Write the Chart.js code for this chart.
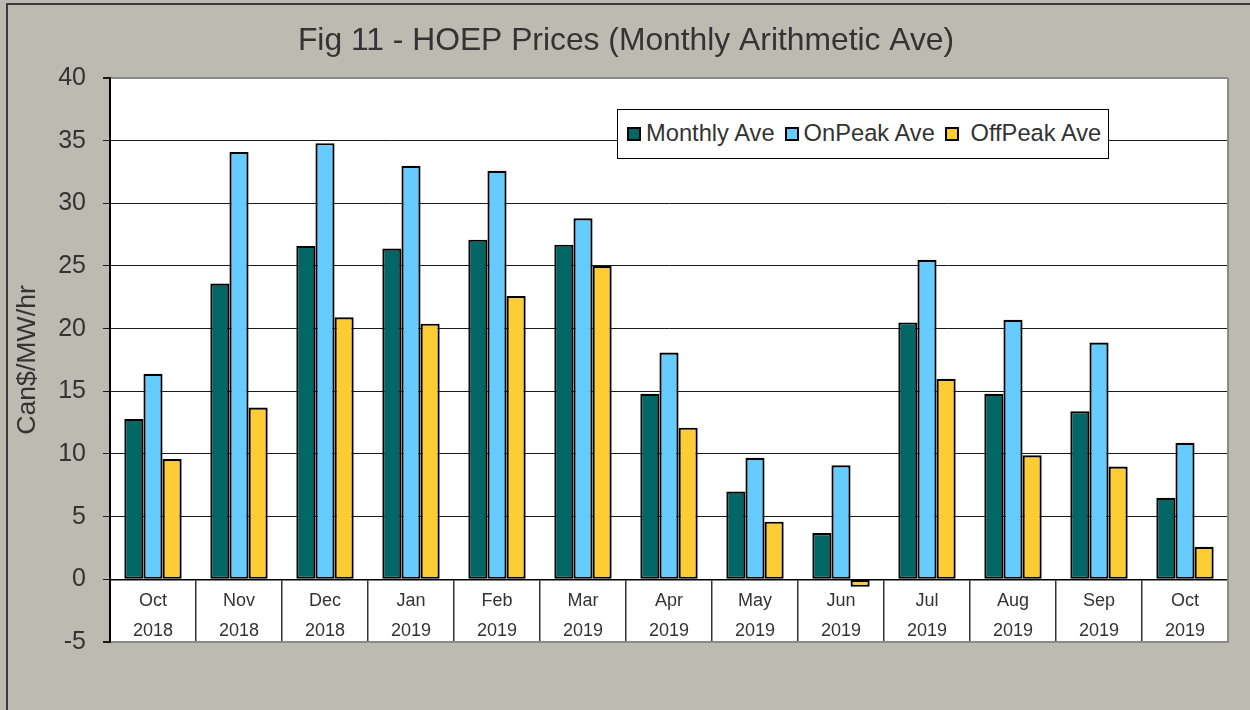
<!DOCTYPE html>
<html>
<head>
<meta charset="utf-8">
<script src="https://cdn.jsdelivr.net/npm/chart.js@4.4.1/dist/chart.umd.min.js"></script>
<style>
  html, body { margin: 0; padding: 0; background: #bbbbb1; }
  #wrap { position: relative; width: 1250px; height: 710px; }
  #c { position: absolute; left: 0; top: 0; }
  #legend {
    position: absolute; left: 617px; top: 109px; width: 492px; height: 50px;
    box-sizing: border-box; border: 1.5px solid #000; background: #fff;
    display: flex; align-items: center; padding-left: 9px;
    font-family: "Liberation Sans", Arial, sans-serif; font-size: 23.7px; color: #333;
  }
  #legend .sw { width: 14px; height: 14px; box-sizing: border-box; border: 2px solid #000; margin-right: 5px; flex: none; }
  #legend .tx { white-space: pre; margin-right: 10px; line-height: 1; }
</style>
</head>
<body>
<div id="wrap">
  <canvas id="c" width="1250" height="710"></canvas>
  <div id="legend"></div>
</div>
<script>
// ---- data ----
const months = ['Oct','Nov','Dec','Jan','Feb','Mar','Apr','May','Jun','Jul','Aug','Sep','Oct'];
const years  = ['2018','2018','2018','2019','2019','2019','2019','2019','2019','2019','2019','2019','2019'];
const seriesNames = ['Monthly Ave', 'OnPeak Ave', ' OffPeak Ave'];
const monthlyAve = [12.8, 23.6, 26.6, 26.4, 27.1, 26.7, 14.8, 7.0, 3.7, 20.5, 14.8, 13.4, 6.5];
const onPeakAve  = [16.4, 34.1, 34.8, 33.0, 32.6, 28.8, 18.1, 9.7, 9.1, 25.5, 20.7, 18.9, 10.9];
const offPeakAve = [9.6, 13.7, 20.9, 20.4, 22.6, 25.0, 12.1, 4.6, -0.6, 16.0, 9.9, 9.0, 2.6];
const yMin = -5, yMax = 40, yStep = 5;
const titleText = 'Fig 11 - HOEP Prices (Monthly Arithmetic Ave)';
const yTitle = 'Can$/MW/hr';

const FONT = '"Liberation Sans", Arial, sans-serif';
const TXT = '#333333';
const colors = ['#006666', '#66ccff', '#ffcc33'];

const labels = months.map((m, i) => [m, years[i]]);

const bgPlugin = {
  id: 'bg',
  beforeDraw(chart) {
    const {ctx, chartArea: a, width, height} = chart;
    ctx.save();
    ctx.fillStyle = '#bbbbb1';
    ctx.fillRect(0, 0, width, height);
    ctx.fillStyle = '#ffffff';
    ctx.fillRect(a.left, a.top, a.right - a.left, a.bottom - a.top);
    ctx.strokeStyle = '#3c3c3c';
    ctx.lineWidth = 2;
    ctx.beginPath();
    ctx.moveTo(7, height);
    ctx.lineTo(7, 4);
    ctx.lineTo(width, 4);
    ctx.stroke();
    ctx.restore();
  },
  beforeDatasetsDraw(chart) {
    const {ctx, chartArea: a} = chart;
    ctx.save();
    ctx.strokeStyle = '#8a8a8a';
    ctx.lineWidth = 2;
    ctx.beginPath();
    ctx.moveTo(a.right, a.top);
    ctx.lineTo(a.right, a.bottom);
    ctx.stroke();
    ctx.restore();
  }
};

const chart = new Chart(document.getElementById('c'), {
  type: 'bar',
  data: {
    labels: labels,
    datasets: [
      { label: seriesNames[0], data: monthlyAve, backgroundColor: colors[0] },
      { label: seriesNames[1], data: onPeakAve,  backgroundColor: colors[1] },
      { label: seriesNames[2], data: offPeakAve, backgroundColor: colors[2] }
    ].map(d => Object.assign(d, { borderColor: '#000', borderWidth: 2.2, borderSkipped: false,
                                   barPercentage: 1.0, categoryPercentage: 0.667 }))
  },
  options: {
    responsive: false,
    animation: false,
    devicePixelRatio: 1,
    layout: { padding: { left: 2, right: 0, top: 0, bottom: 68 } },
    plugins: {
      legend: { display: false },
      tooltip: { enabled: false },
      title: {
        display: true, text: titleText, color: TXT,
        font: { family: FONT, size: 31.8, weight: 'normal', lineHeight: 1.2 },
        padding: { top: 22, bottom: 17.8 }
      }
    },
    scales: {
      x: {
        position: { y: 0 },
        offset: true,
        grid: { offset: true, drawOnChartArea: false, drawTicks: true, tickLength: 62,
                color: '#333', lineWidth: 1.5 },
        border: { display: true, color: '#000', width: 1.5 },
        ticks: { autoSkip: false, maxRotation: 0, minRotation: 0, color: TXT, padding: -55,
                 font: { family: FONT, size: 18, lineHeight: 1.667 } }
      },
      y: {
        min: yMin, max: yMax,
        afterFit(scale) { scale.width = 108; },
        ticks: { stepSize: yStep, color: TXT, padding: 17,
                 font: { family: FONT, size: 25 } },
        grid: {
          tickLength: 7,
          color: (c) => (c.tick && (c.tick.value === yMax || c.tick.value === yMin)) ? '#8a8a8a' : '#1a1a1a',
          lineWidth: (c) => (c.tick && (c.tick.value === yMax || c.tick.value === yMin)) ? 2 : 1,
          tickColor: '#1a1a1a'
        },
        border: { display: true, color: '#000', width: 2 },
        title: { display: true, text: yTitle, color: TXT,
                 font: { family: FONT, size: 26.7, lineHeight: 1.2 },
                 padding: { top: 9.5, bottom: 0 } }
      },
      yRight: {
        position: 'right',
        min: yMin, max: yMax,
        afterFit(scale) { scale.width = 22; },
        ticks: { display: false },
        grid: { display: false, drawTicks: false },
        border: { display: false }
      }
    }
  },
  plugins: [bgPlugin]
});

// HTML legend built from the chart's datasets
(function buildLegend() {
  const el = document.getElementById('legend');
  chart.data.datasets.forEach((ds) => {
    const sw = document.createElement('span');
    sw.className = 'sw';
    sw.style.background = ds.backgroundColor;
    const tx = document.createElement('span');
    tx.className = 'tx';
    tx.textContent = ds.label;
    el.appendChild(sw);
    el.appendChild(tx);
  });
})();
</script>
</body>
</html>
